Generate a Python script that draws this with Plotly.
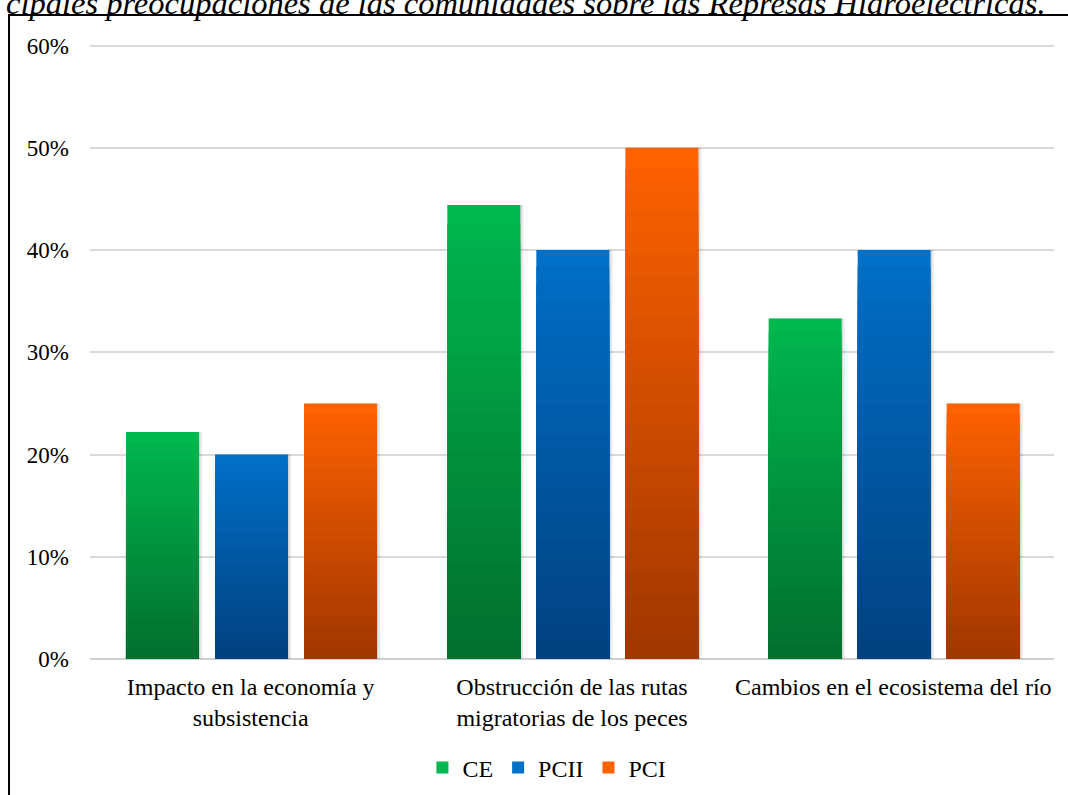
import plotly.graph_objects as go

categories = ["Impacto en la economía y<br>subsistencia",
              "Obstrucción de las rutas<br>migratorias de los peces",
              "Cambios en el ecosistema del río"]
series_names = ["CE", "PCII", "PCI"]
ce = [0.222, 0.444, 0.333]
pcii = [0.20, 0.40, 0.40]
pci = [0.25, 0.50, 0.25]
title_text = "cipales preocupaciones de las comunidades sobre las Represas Hidroeléctricas."

series_values = [ce, pcii, pci]
top_colors = [(0, 184, 79), (0, 112, 200), (255, 98, 0)]
bottom_colors = [(2, 110, 46), (2, 64, 126), (160, 54, 0)]
offsets = [-0.388, -0.111, 0.166]
bar_width = 0.227
LAYERS = 24
FONT = "Liberation Serif"

fig = go.Figure()
# soft shadows behind bars
for s, vals in enumerate(series_values):
    for dx, alpha in [(0.004, 0.10), (0.010, 0.08)]:
        fig.add_trace(go.Bar(
            x=categories, y=vals, showlegend=False, hoverinfo="skip",
            marker=dict(color="rgba(0,0,0,%.2f)" % alpha, line=dict(width=0)),
            width=bar_width, offset=offsets[s] + dx,
        ))

for s, (name, vals) in enumerate(zip(series_names, series_values)):
    tc, bc = top_colors[s], bottom_colors[s]
    for k in range(LAYERS):
        frac = 1 - (k + 0.5) / LAYERS
        col = tuple(round(bc[i] + (tc[i] - bc[i]) * frac) for i in range(3))
        if k == 0:
            col = tc
        scale = 1 - k / LAYERS
        fig.add_trace(go.Bar(
            x=categories,
            y=[v * scale for v in vals],
            name=name,
            legendgroup=name,
            showlegend=(k == 0),
            marker=dict(color="rgb(%d,%d,%d)" % col, line=dict(width=0)),
            width=bar_width,
            offset=offsets[s],
            hoverinfo="skip" if k else None,
        ))

fig.update_layout(
    width=1068, height=795,
    barmode="overlay",
    paper_bgcolor="white", plot_bgcolor="white",
    margin=dict(l=90, r=14, t=44, b=136, autoexpand=False),
    font=dict(family=FONT, size=24, color="#000000"),
    legend=dict(orientation="h", x=0.474, xanchor="center", y=-0.177, yanchor="middle",
                font=dict(size=24, family=FONT), traceorder="normal",
                itemwidth=30, bgcolor="rgba(0,0,0,0)"),
    xaxis=dict(showgrid=False, showline=False, ticks="", tickfont=dict(size=24, family=FONT),
               ticklabelstandoff=11, automargin=False),
    yaxis=dict(range=[0, 0.6015], tickvals=[0, 0.1, 0.2, 0.3, 0.4, 0.5, 0.6],
               tickformat=".0%", showgrid=True,
               gridcolor="#D9D9D9", gridwidth=2, zeroline=True, zerolinecolor="#D0D0D0",
               zerolinewidth=2, showline=False, ticks="", tickfont=dict(size=23, family=FONT),
               ticklabelstandoff=20, automargin=False),
    shapes=[dict(type="rect", xref="paper", yref="paper", x0=-0.084, x1=1.2,
                 y0=-0.5, y1=1.0472, line=dict(color="black", width=2),
                 fillcolor="rgba(0,0,0,0)", layer="above")],
    annotations=[dict(text=title_text, xref="paper", yref="paper",
                      x=0.9938, xanchor="right", y=1.0663, yanchor="middle",
                      showarrow=False,
                      font=dict(size=32.5, family=FONT, color="black", style="italic"))],
)

fig.write_html("out.html", config={"displayModeBar": False},
               post_script="document.body.style.margin='0';document.body.style.padding='0';")
